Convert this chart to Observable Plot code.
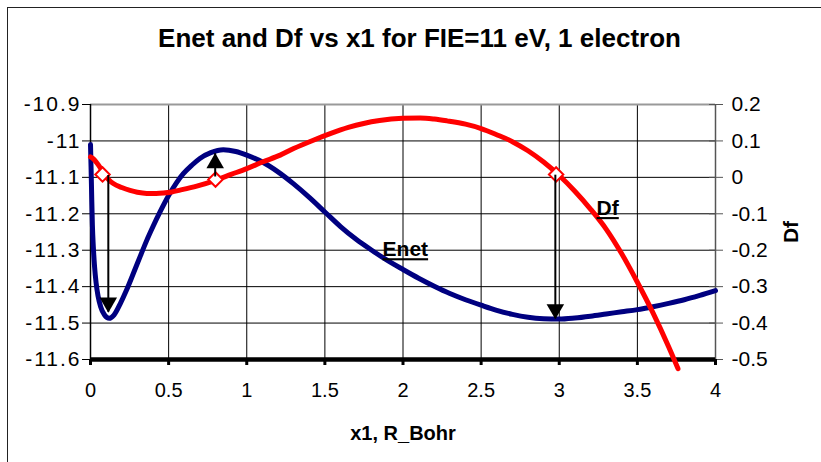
<!DOCTYPE html>
<html><head><meta charset="utf-8">
<script src="https://cdn.jsdelivr.net/npm/d3@7"></script>
<script src="https://cdn.jsdelivr.net/npm/@observablehq/plot@0.6"></script>
<style>
html,body{margin:0;padding:0;background:#fff;overflow:hidden;width:821px;height:462px;}
#wrap{position:relative;width:821px;height:462px;font-family:"Liberation Sans",Arial,sans-serif;}
#frame{position:absolute;left:7px;top:7px;width:900px;height:600px;border:1.5px solid #222;box-sizing:border-box;}
#title{position:absolute;left:0;top:0;width:821px;height:80px;box-sizing:border-box;padding-top:25px;padding-left:18px;text-align:center;font-weight:bold;font-size:26px;line-height:26px;color:#000;}
#chart{position:absolute;left:0;top:80px;}
g[aria-label="y-axis label"] text, g[aria-label="x-axis label"] text{font-weight:bold;}
g[aria-label="text"] text{text-decoration:underline;}
</style>
</head><body>
<div id="wrap"><div id="frame"></div><div id="title">Enet and Df vs x1 for FIE=11 eV, 1 electron</div><div id="chart"></div></div>
<script>
// ---- data ----
const xTicks = [0, 0.5, 1, 1.5, 2, 2.5, 3, 3.5, 4];
const enetTicks = [-10.9, -11, -11.1, -11.2, -11.3, -11.4, -11.5, -11.6];
const dfTicks = [0.2, 0.1, 0, -0.1, -0.2, -0.3, -0.4, -0.5];

const enetX = [0, 0.004, 0.008, 0.012, 0.018, 0.026, 0.036, 0.048, 0.065, 0.09, 0.12, 0.15, 0.19, 0.23, 0.274, 0.32, 0.36, 0.40, 0.445, 0.5, 0.55, 0.594, 0.65, 0.7, 0.77, 0.85, 0.93, 1.0, 1.1, 1.2, 1.3, 1.4, 1.5, 1.6, 1.7, 1.8, 1.9, 2.0, 2.1, 2.2, 2.3, 2.4, 2.5, 2.6, 2.7, 2.8, 2.9, 3.0, 3.1, 3.2, 3.3, 3.4, 3.5, 3.6, 3.7, 3.8, 3.9, 4.0];
const enetY = [-11.01, -11.08, -11.16, -11.23, -11.29, -11.345, -11.39, -11.425, -11.455, -11.478, -11.487, -11.478, -11.447, -11.41, -11.364, -11.315, -11.273, -11.235, -11.195, -11.15, -11.115, -11.09, -11.066, -11.048, -11.032, -11.024, -11.029, -11.039, -11.058, -11.085, -11.118, -11.155, -11.195, -11.235, -11.27, -11.3, -11.328, -11.353, -11.377, -11.399, -11.419, -11.436, -11.451, -11.465, -11.476, -11.484, -11.488, -11.489, -11.486, -11.481, -11.475, -11.469, -11.463, -11.455, -11.446, -11.436, -11.424, -11.411];

const dfX = [0, 0.02, 0.04, 0.06, 0.08, 0.1, 0.12, 0.146, 0.2, 0.253, 0.3, 0.36, 0.42, 0.466, 0.52, 0.573, 0.68, 0.8, 0.9, 1.0, 1.1, 1.214, 1.3, 1.426, 1.534, 1.65, 1.748, 1.85, 1.997, 2.11, 2.2, 2.282, 2.4, 2.5, 2.6, 2.7, 2.8, 2.9, 3.0, 3.1, 3.2, 3.3, 3.4, 3.5, 3.6, 3.7, 3.76];
const dfY = [0.056, 0.05, 0.04, 0.028, 0.014, 0.002, -0.008, -0.017, -0.028, -0.036, -0.041, -0.044, -0.044, -0.043, -0.04, -0.035, -0.024, -0.008, 0.008, 0.024, 0.042, 0.061, 0.079, 0.102, 0.12, 0.137, 0.148, 0.156, 0.162, 0.163, 0.16, 0.155, 0.146, 0.134, 0.117, 0.098, 0.073, 0.042, 0.005, -0.038, -0.087, -0.142, -0.21, -0.288, -0.372, -0.465, -0.525];

const markerX = [0.077, 0.8, 2.98];
const markerDf = [0.008, -0.006, 0.008];

const arrowX = [0.114, 0.798, 2.975];
const arrowFrom = [-11.095, -11.099, -11.094];
const arrowTo = [-11.47, -11.035, -11.488];

const labelText = ["Enet", "Df"];
const labelX = [2.015, 3.31];
const labelEnet = [-11.298, -11.185];

// Df axis is aligned so that Df = 0 sits at Enet = -11.1, same 0.1 step
const DF_OFFSET = -11.1;
const toLeft = d => d + DF_OFFSET;

const enet = enetX.map((x, i) => ({x, y: enetY[i]}));
const df = dfX.map((x, i) => ({x, y: toLeft(dfY[i])}));
const markers = markerX.map((x, i) => ({x, y: toLeft(markerDf[i])}));
const arrows = arrowX.map((x, i) => ({x, y1: arrowFrom[i], y2: arrowTo[i], dir: arrowTo[i] < arrowFrom[i] ? "down" : "up"}));
const labels = labelText.map((t, i) => ({t, x: labelX[i], y: labelEnet[i]}));

const fmt = v => String(Math.round(v * 10) / 10);

const chart = Plot.plot({
  width: 821,
  height: 382,
  marginLeft: 90,
  marginRight: 106,
  marginTop: 24,
  marginBottom: 103,
  style: {fontFamily: '"Liberation Sans", Arial, sans-serif', fontSize: "20px", color: "#000", background: "transparent", overflow: "visible"},
  x: {domain: [0, 4]},
  y: {domain: [-11.6, -10.9]},
  marks: [
    Plot.ruleX(xTicks.slice(1, -1), {stroke: "#000", strokeWidth: 1}),
    Plot.ruleY(enetTicks.filter(d => d > -11.6 && d < -10.9), {stroke: "#000", strokeWidth: 1}),
    Plot.ruleY([enetTicks[0]], {stroke: "#999", strokeWidth: 2}),
    Plot.ruleX([xTicks[xTicks.length - 1]], {stroke: "#555", strokeWidth: 1.5}),
    Plot.ruleX([xTicks[0]], {stroke: "#000", strokeWidth: 1.5}),
    Plot.axisY(enetTicks, {anchor: "left", tickSize: 8, tickPadding: 1, fontSize: 21, tickFormat: d => String(d), label: null, stroke: "#000"}),
    Plot.axisY(dfTicks.map(toLeft), {anchor: "right", tickSize: 7, tickPadding: 9, fontSize: 21, tickFormat: d => fmt(d - DF_OFFSET), label: "Df", labelArrow: "none", labelAnchor: "center", labelOffset: 82, stroke: "#555"}),
    Plot.axisY(dfTicks.map(toLeft), {anchor: "right", tickSize: -7, tickFormat: () => "", label: null, stroke: "#555"}),
    Plot.axisX(xTicks, {anchor: "bottom", tickSize: 6, tickPadding: 17, strokeWidth: 3, tickFormat: d => String(d), label: "x1, R_Bohr", labelArrow: "none", labelAnchor: "center", labelOffset: 80}),
    Plot.ruleY([enetTicks[enetTicks.length - 1]], {stroke: "#000", strokeWidth: 4.5}),
    Plot.line(enet, {x: "x", y: "y", stroke: "#000080", strokeWidth: 5, curve: "monotone-x"}),
    Plot.line(df, {x: "x", y: "y", stroke: "#ff0000", strokeWidth: 5, curve: "monotone-x"}),
    Plot.dot(markers, {x: "x", y: "y", symbol: "diamond2", r: 6.5, fill: "#fff", stroke: "#ff0000", strokeWidth: 2}),
    Plot.ruleX(arrows, {x: "x", y1: "y1", y2: "y2", stroke: "#000", strokeWidth: 2}),
    Plot.dot(arrows.filter(a => a.dir === "down"), {x: "x", y: "y2", symbol: "triangle", r: 6.5, fill: "#000", stroke: "none", rotate: 180, dy: -9.5}),
    Plot.dot(arrows.filter(a => a.dir === "up"), {x: "x", y: "y2", symbol: "triangle", r: 6.5, fill: "#000", stroke: "none", dy: 9.5}),
    Plot.text(labels, {x: "x", y: "y", text: "t", fontWeight: "bold", fontSize: 21, fill: "#000"})
  ]
});
// strip any axis-label arrows, underline the curve labels, widen left tick labels
chart.querySelectorAll('g[aria-label$="axis label"] text').forEach(t => { t.textContent = t.textContent.replace(/\s*[→←↑↓]\s*/g, ""); });
chart.querySelectorAll('g[aria-label="text"] text').forEach(t => { t.setAttribute("text-decoration", "underline"); t.style.textDecoration = "underline"; });
const yLabelGroups = chart.querySelectorAll('g[aria-label="y-axis tick label"]');
if (yLabelGroups.length) yLabelGroups[0].style.letterSpacing = "2px";
document.getElementById("chart").appendChild(chart);
</script>
</body></html>
